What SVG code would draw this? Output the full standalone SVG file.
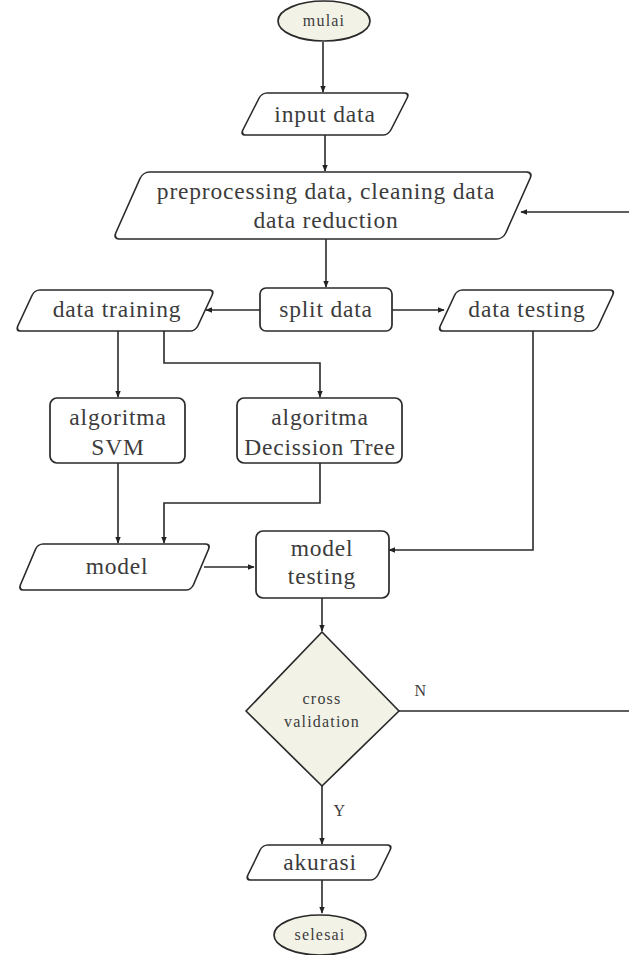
<svg xmlns="http://www.w3.org/2000/svg" width="629" height="955" viewBox="0 0 629 955">
  <defs>
    <marker id="arr" viewBox="0 0 10 10" refX="9" refY="5" markerWidth="7" markerHeight="7" markerUnits="userSpaceOnUse" orient="auto">
      <path d="M0,1 L10,5 L0,9 Z" fill="#222"/>
    </marker>
    <style>
      .shape { fill: #ffffff; stroke: #2a2a2a; stroke-width: 1.7; stroke-linejoin: round; }
      .term { fill: #f3f2e7; stroke: #2a2a2a; stroke-width: 1.7; stroke-linejoin: round; }
      .link { fill: none; stroke: #2a2a2a; stroke-width: 1.6; }
      .lbl { font-family: "Liberation Serif", "DejaVu Serif", serif; font-size: 23.5px; letter-spacing: 0.8px; fill: #3c3c3c; text-anchor: middle; }
      .sm { font-size: 16px; letter-spacing: 1.2px; }
    </style>
  </defs>
  <rect width="629" height="955" fill="#ffffff"/>

  <!-- connectors -->
  <g id="connectors">
    <path class="link" d="M323,42 V92" marker-end="url(#arr)"/>
    <path class="link" d="M325,135 V171" marker-end="url(#arr)"/>
    <path class="link" d="M629,212 H521" marker-end="url(#arr)"/>
    <path class="link" d="M326,239 V287" marker-end="url(#arr)"/>
    <path class="link" d="M260,310 H206" marker-end="url(#arr)"/>
    <path class="link" d="M392,310 H444" marker-end="url(#arr)"/>
    <path class="link" d="M118,331 V397" marker-end="url(#arr)"/>
    <path class="link" d="M164,331 V363 H320 V397" marker-end="url(#arr)"/>
    <path class="link" d="M118,463 V543" marker-end="url(#arr)"/>
    <path class="link" d="M320,463 V503 H164 V543" marker-end="url(#arr)"/>
    <path class="link" d="M204,567 H254" marker-end="url(#arr)"/>
    <path class="link" d="M533,331 V550 H389" marker-end="url(#arr)"/>
    <path class="link" d="M322,598 V631" marker-end="url(#arr)"/>
    <path class="link" d="M399,711 H629"/>
    <path class="link" d="M322,786 V844" marker-end="url(#arr)"/>
    <path class="link" d="M322,880 V913" marker-end="url(#arr)"/>
    <text class="lbl sm" x="421" y="696">N</text>
    <text class="lbl sm" x="340" y="816">Y</text>
  </g>

  <g id="mulai">
    <ellipse class="term" cx="324" cy="21" rx="46" ry="20"/>
    <text class="lbl sm" x="324" y="26">mulai</text>
  </g>

  <!-- data/IO nodes: rounded rects slanted with skewX -->
  <g id="input-data">
    <rect class="shape" transform="translate(325,114) skewX(-27)" x="-74" y="-21" width="148" height="42" rx="5"/>
    <text class="lbl" x="325" y="122">input data</text>
  </g>

  <g id="preprocessing">
    <rect class="shape" transform="translate(323,205.5) skewX(-24)" x="-195" y="-33.5" width="390" height="67" rx="6"/>
    <text class="lbl" x="326" y="199">preprocessing data, cleaning data</text>
    <text class="lbl" x="326" y="228">data reduction</text>
  </g>

  <g id="split-data">
    <rect class="shape" x="260" y="288" width="132" height="43" rx="6"/>
    <text class="lbl" x="326" y="317">split data</text>
  </g>

  <g id="data-training">
    <rect class="shape" transform="translate(115,310.5) skewX(-25)" x="-90" y="-20.5" width="180" height="41" rx="5"/>
    <text class="lbl" x="117" y="317">data training</text>
  </g>

  <g id="data-testing">
    <rect class="shape" transform="translate(526.5,310.5) skewX(-25)" x="-79" y="-20.5" width="158" height="41" rx="5"/>
    <text class="lbl" x="527" y="317">data testing</text>
  </g>

  <g id="algoritma-svm">
    <rect class="shape" x="50" y="398" width="135" height="65" rx="7"/>
    <text class="lbl" x="118" y="425">algoritma</text>
    <text class="lbl" x="118" y="455">SVM</text>
  </g>

  <g id="algoritma-dt">
    <rect class="shape" x="237" y="398" width="165" height="65" rx="7"/>
    <text class="lbl" x="320" y="425">algoritma</text>
    <text class="lbl" x="320" y="455">Decission Tree</text>
  </g>

  <g id="model">
    <rect class="shape" transform="translate(114.5,567) skewX(-23)" x="-86.5" y="-23" width="173" height="46" rx="5"/>
    <text class="lbl" x="117" y="574">model</text>
  </g>

  <g id="model-testing">
    <rect class="shape" x="256" y="531" width="133" height="67" rx="7"/>
    <text class="lbl" x="322" y="556">model</text>
    <text class="lbl" x="322" y="584">testing</text>
  </g>

  <g id="cross-validation">
    <polygon class="term" points="322,632 399,711 322,786 246,711"/>
    <text class="lbl sm" x="322" y="704">cross</text>
    <text class="lbl sm" x="322" y="727">validation</text>
  </g>

  <g id="akurasi">
    <rect class="shape" transform="translate(319,862.5) skewX(-26)" x="-65" y="-17.5" width="130" height="35" rx="5"/>
    <text class="lbl" x="320" y="870">akurasi</text>
  </g>

  <g id="selesai">
    <ellipse class="term" cx="320" cy="935" rx="46" ry="20"/>
    <text class="lbl sm" x="320" y="940">selesai</text>
  </g>
</svg>
